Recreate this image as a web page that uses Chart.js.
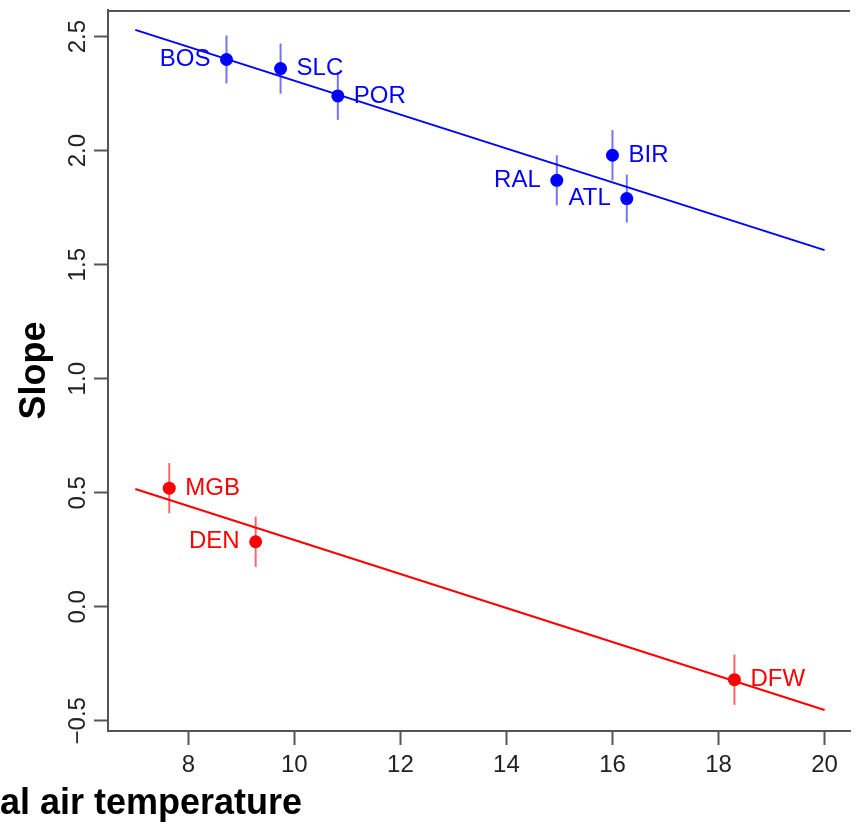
<!DOCTYPE html>
<html>
<head>
<meta charset="utf-8">
<title>Slope vs air temperature</title>
<script src="https://cdn.jsdelivr.net/npm/chart.js@4/dist/chart.umd.min.js"></script>
<style>
  html, body { margin: 0; padding: 0; background: #fff; }
  canvas { display: block; }
</style>
</head>
<body>
<canvas id="chart" width="857" height="830"></canvas>
<script>
// site groups: temperature (x), slope (y), standard error
const blueSites = ['BOS', 'SLC', 'POR', 'RAL', 'BIR', 'ATL'];
const blueTemp = [8.72, 9.74, 10.82, 14.95, 16.0, 16.27];
const blueSlope = [2.40, 2.36, 2.24, 1.87, 1.98, 1.79];
const blueErr = [0.105, 0.11, 0.105, 0.11, 0.11, 0.105];

const redSites = ['MGB', 'DEN', 'DFW'];
const redTemp = [7.64, 9.27, 18.30];
const redSlope = [0.52, 0.285, -0.32];
const redErr = [0.11, 0.11, 0.11];

// fitted lines, evaluated at the ends of the range
const fitTemp = [7, 20];
const blueFit = [2.53, 1.564];
const redFit = [0.516, -0.453];

const xTicks = [8, 10, 12, 14, 16, 18, 20];
const yTicks = [-0.5, 0, 0.5, 1, 1.5, 2, 2.5];

const BLUE = '#0000ff';
const RED = '#ff0000';
const AXIS = '#555';
const FONT = "'Liberation Sans', Arial, Helvetica, sans-serif";

// which side of the point each site name sits on
const labelSide = {
  BOS: 'left', SLC: 'right', POR: 'right', RAL: 'left', BIR: 'right', ATL: 'left',
  MGB: 'right', DEN: 'left', DFW: 'right'
};

const pts = (xs, ys) => xs.map((x, i) => ({ x, y: ys[i] }));

const groups = [
  { sites: blueSites, temp: blueTemp, slope: blueSlope, err: blueErr, color: BLUE, barColor: 'rgba(0,0,255,0.55)' },
  { sites: redSites, temp: redTemp, slope: redSlope, err: redErr, color: RED, barColor: 'rgba(255,0,0,0.6)' }
];

const decor = {
  id: 'decor',
  beforeDatasetsDraw(chart) {
    const { ctx, scales: { x, y } } = chart;
    ctx.save();
    ctx.lineWidth = 2;
    groups.forEach(g => {
      ctx.strokeStyle = g.barColor;
      g.temp.forEach((t, i) => {
        const px = x.getPixelForValue(t);
        ctx.beginPath();
        ctx.moveTo(px, y.getPixelForValue(g.slope[i] - g.err[i]));
        ctx.lineTo(px, y.getPixelForValue(g.slope[i] + g.err[i]));
        ctx.stroke();
      });
    });
    ctx.restore();
  },
  afterDraw(chart) {
    const { ctx, chartArea, scales: { x, y } } = chart;
    ctx.save();

    // top edge of the box
    ctx.strokeStyle = AXIS;
    ctx.lineWidth = 2;
    ctx.beginPath();
    ctx.moveTo(chartArea.left, chartArea.top + 1);
    ctx.lineTo(chartArea.right, chartArea.top + 1);
    ctx.stroke();

    // site names
    ctx.font = '24px ' + FONT;
    ctx.textBaseline = 'middle';
    groups.forEach(g => {
      ctx.fillStyle = g.color;
      g.sites.forEach((s, i) => {
        const px = x.getPixelForValue(g.temp[i]);
        const py = y.getPixelForValue(g.slope[i]);
        if (labelSide[s] === 'left') {
          ctx.textAlign = 'right';
          ctx.fillText(s, px - 16, py);
        } else {
          ctx.textAlign = 'left';
          ctx.fillText(s, px + 16, py);
        }
      });
    });

    // y tick labels, written sideways
    ctx.fillStyle = '#222';
    ctx.textAlign = 'center';
    ctx.textBaseline = 'middle';
    yTicks.forEach(v => {
      const py = y.getPixelForValue(v);
      ctx.save();
      ctx.translate(78, py);
      ctx.rotate(-Math.PI / 2);
      ctx.fillText(v.toFixed(1).replace('-', '\u2212'), 0, 0);
      ctx.restore();
    });

    // x axis title
    ctx.fillStyle = '#000';
    ctx.font = 'bold 36px ' + FONT;
    ctx.textAlign = 'left';
    ctx.textBaseline = 'alphabetic';
    ctx.fillText('al air temperature', 0, 814);
    ctx.restore();
  }
};

new Chart(document.getElementById('chart'), {
  type: 'scatter',
  data: {
    datasets: [
      { type: 'line', data: pts(fitTemp, blueFit), borderColor: BLUE, borderWidth: 2, pointRadius: 0, fill: false },
      { type: 'line', data: pts(fitTemp, redFit), borderColor: RED, borderWidth: 2, pointRadius: 0, fill: false },
      { data: pts(blueTemp, blueSlope), backgroundColor: BLUE, borderWidth: 0, pointRadius: 6.5 },
      { data: pts(redTemp, redSlope), backgroundColor: RED, borderWidth: 0, pointRadius: 6.5 }
    ]
  },
  options: {
    responsive: false,
    animation: false,
    layout: { padding: { top: 10, right: 7, left: 0, bottom: 0 } },
    plugins: { legend: { display: false }, tooltip: { enabled: false } },
    scales: {
      x: {
        type: 'linear',
        min: 6.485,
        max: 20.48,
        afterBuildTicks: s => { s.ticks = xTicks.map(v => ({ value: v })); },
        afterFit: s => { s.height = 99; },
        border: { color: AXIS, width: 2 },
        grid: { drawOnChartArea: false, tickLength: 14, tickWidth: 2, tickColor: AXIS },
        ticks: { color: '#222', font: { family: FONT, size: 24 }, padding: 6, maxRotation: 0 }
      },
      y: {
        type: 'linear',
        min: -0.545,
        max: 2.617,
        afterBuildTicks: s => { s.ticks = yTicks.map(v => ({ value: v })); },
        afterFit: s => { s.width = 108; },
        border: { color: AXIS, width: 2 },
        grid: { drawOnChartArea: false, tickLength: 14, tickWidth: 2, tickColor: AXIS },
        ticks: { display: false },
        title: { display: true, text: 'Slope', color: '#000', font: { family: FONT, size: 36, weight: 'bold' }, padding: { top: 13, bottom: 0 } }
      }
    }
  },
  plugins: [decor]
});
</script>
</body>
</html>
